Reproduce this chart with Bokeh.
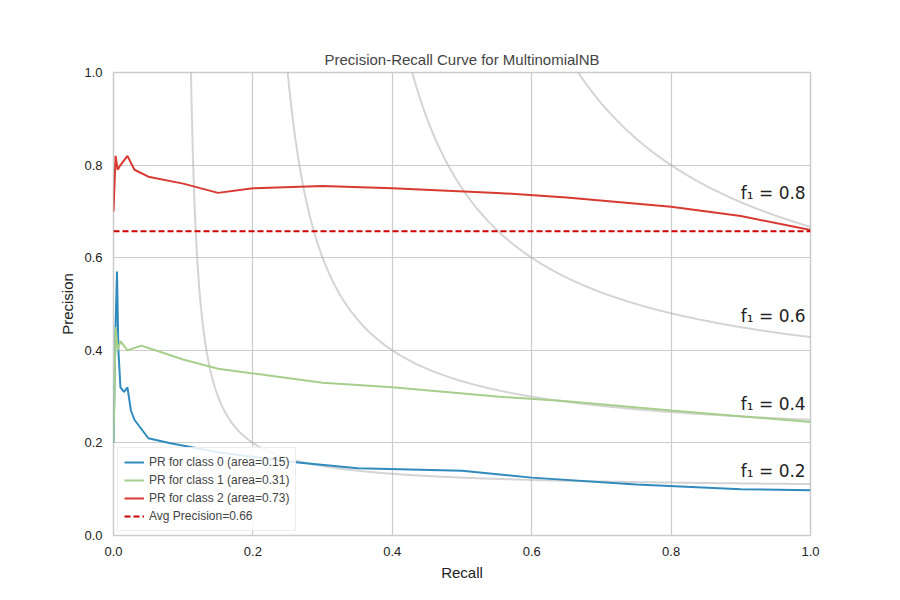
from bokeh.plotting import figure
from bokeh.models import Range1d, Legend, LegendItem, FixedTicker, CustomJSTickFormatter
from bokeh.embed import file_html
from bokeh.resources import INLINE
from bokeh.core.properties import value

# values
recall_0 = [0.0, 0.003, 0.005, 0.007, 0.01, 0.015, 0.02, 0.025, 0.03, 0.04, 0.05, 0.08, 0.15, 0.25, 0.35, 0.5, 0.6, 0.75, 0.9, 1.0]
prec_0 = [0.20, 0.45, 0.57, 0.40, 0.32, 0.31, 0.32, 0.27, 0.25, 0.23, 0.21, 0.20, 0.18, 0.16, 0.145, 0.14, 0.125, 0.11, 0.10, 0.098]
recall_1 = [0.0, 0.003, 0.006, 0.01, 0.02, 0.04, 0.06, 0.1, 0.15, 0.2, 0.3, 0.4, 0.55, 0.65, 0.8, 1.0]
prec_1 = [0.20, 0.45, 0.40, 0.42, 0.40, 0.41, 0.40, 0.38, 0.36, 0.35, 0.33, 0.32, 0.30, 0.29, 0.27, 0.245]
recall_2 = [0.0, 0.003, 0.006, 0.01, 0.02, 0.03, 0.05, 0.1, 0.15, 0.2, 0.3, 0.4, 0.55, 0.65, 0.8, 0.9, 1.0]
prec_2 = [0.70, 0.82, 0.79, 0.80, 0.82, 0.79, 0.775, 0.76, 0.74, 0.75, 0.755, 0.75, 0.74, 0.73, 0.71, 0.69, 0.66]
avg_precision = 0.657
f_scores = [0.2, 0.4, 0.6, 0.8]
f_label_y = [0.14, 0.285, 0.475, 0.74]
labels = ["PR for class 0 (area=0.15)", "PR for class 1 (area=0.31)",
          "PR for class 2 (area=0.73)", "Avg Precision=0.66"]
colors = ["#2f8bbd", "#a6cf8c", "#d83a32"]

FONT = "Liberation Sans"

p = figure(width=884, height=584, output_backend="svg", toolbar_location=None,
           title="Precision-Recall Curve for MultinomialNB",
           x_range=Range1d(0, 1), y_range=Range1d(0, 1),
           x_axis_label="Recall", y_axis_label="Precision",
           min_border_left=113, min_border_right=74, min_border_top=72, min_border_bottom=49)
p.title.align = "center"
p.title.text_font_style = "normal"
p.title.text_font = FONT
p.title.text_font_size = "15px"
p.outline_line_color = "#cccccc"
p.outline_line_width = 1.5
for ax in (p.xaxis, p.yaxis):
    ax.ticker = FixedTicker(ticks=[0, 0.2, 0.4, 0.6, 0.8, 1.0])
    ax.formatter = CustomJSTickFormatter(code="return tick.toFixed(1);")
    ax.axis_line_color = None
    ax.major_tick_line_color = None
    ax.minor_tick_line_color = None
    ax.major_label_text_font_size = "13px"
    ax.axis_label_text_font_size = "15px"
    ax.axis_label_text_font_style = "normal"
    ax.major_label_text_font = FONT
    ax.axis_label_text_font = FONT
    ax.major_label_text_color = "#222222"
    ax.axis_label_text_color = "#222222"
p.grid.grid_line_color = "#cccccc"
p.grid.grid_line_width = 1.2

# iso-f1 curves
for f, ly in zip(f_scores, f_label_y):
    xs = [f / 2 + 0.0005 + i * (1 - f / 2) / 400 for i in range(401)]
    ys = [f * x / (2 * x - f) for x in xs]
    p.line(xs, ys, color="#aaaaaa", alpha=0.5, line_width=2)
    p.text([0.9], [ly], text=[f"f\u2081 = {f}"], text_font_size="17px",
           text_font=value("DejaVu Sans"), text_baseline="middle", text_color="#222222")

r0 = p.line(recall_0, prec_0, color=colors[0], line_width=2)
r1 = p.line(recall_1, prec_1, color=colors[1], line_width=2)
r2 = p.line(recall_2, prec_2, color=colors[2], line_width=2)
ra = p.line([0, 1], [avg_precision, avg_precision], color="#cc0000", line_width=2, line_dash="6 3")

legend = Legend(items=[LegendItem(label=l, renderers=[r]) for l, r in zip(labels, [r0, r1, r2, ra])],
                location="bottom_left", label_text_font_size="12px", label_text_font=FONT,
                border_line_color="#dddddd", background_fill_alpha=0.85, spacing=2,
                label_height=16, glyph_height=16, margin=4, padding=6)
p.add_layout(legend)

open("out.html", "w").write(file_html(p, INLINE))
